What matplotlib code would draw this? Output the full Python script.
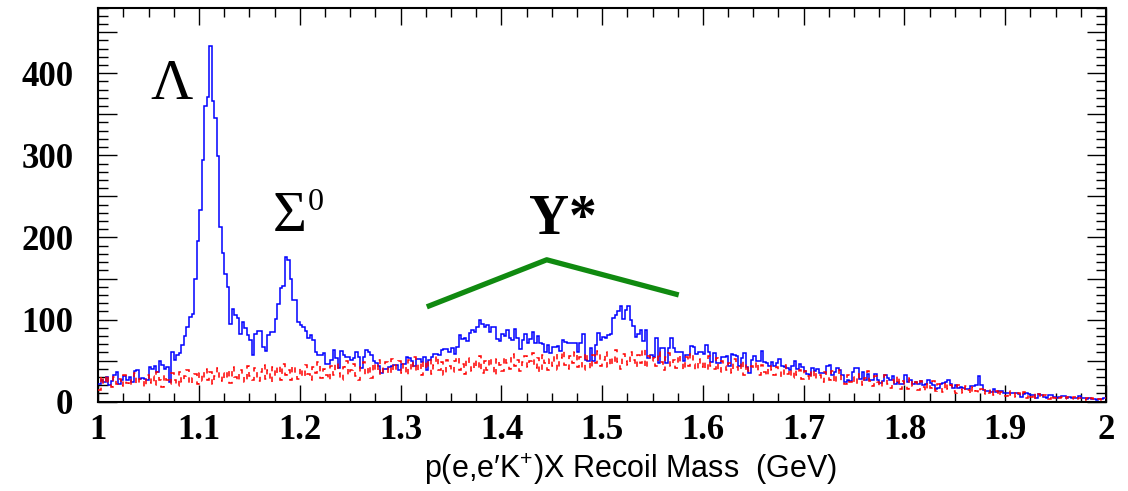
import numpy as np
import matplotlib
matplotlib.use("Agg")
import matplotlib.pyplot as plt
from matplotlib.ticker import MultipleLocator, FuncFormatter

# ---------------- data ----------------
x_min, x_max, n_bins = 1.0, 2.0, 400

signal_counts = [
    22, 27, 24, 30, 20, 25, 33, 36, 22, 27,
    31, 26, 30, 24, 37, 38, 28, 29, 28, 27,
    42, 40, 44, 36, 49, 45, 40, 42, 24, 60,
    51, 57, 59, 69, 80, 91, 103, 107, 150, 196,
    234, 294, 360, 371, 433, 366, 346, 299, 213, 181,
    155, 140, 95, 113, 105, 102, 83, 97, 90, 81,
    75, 57, 83, 86, 86, 66, 62, 81, 85, 85,
    101, 119, 138, 141, 176, 172, 150, 124, 124, 97,
    93, 91, 86, 78, 81, 75, 60, 57, 57, 59,
    46, 46, 51, 63, 53, 41, 62, 57, 55, 55,
    51, 53, 60, 54, 41, 54, 63, 60, 57, 50,
    47, 44, 35, 40, 40, 42, 43, 45, 45, 38,
    46, 46, 55, 53, 50, 43, 52, 52, 48, 54,
    39, 51, 55, 58, 58, 57, 63, 64, 64, 60,
    65, 58, 67, 81, 76, 78, 74, 84, 87, 85,
    91, 100, 95, 91, 93, 85, 91, 91, 76, 74,
    82, 80, 87, 77, 75, 89, 77, 64, 75, 82,
    72, 76, 85, 71, 80, 72, 70, 60, 69, 59,
    66, 66, 68, 62, 75, 73, 71, 71, 71, 72,
    60, 71, 83, 51, 50, 65, 50, 69, 84, 75,
    79, 78, 81, 82, 102, 106, 111, 116, 101, 112,
    117, 100, 92, 79, 83, 87, 74, 87, 53, 57,
    55, 77, 47, 65, 65, 47, 65, 78, 65, 61,
    61, 61, 50, 57, 57, 68, 67, 58, 61, 61,
    58, 69, 60, 48, 59, 47, 47, 55, 54, 56,
    43, 58, 57, 56, 43, 53, 59, 42, 35, 51,
    56, 49, 49, 62, 48, 47, 44, 48, 43, 47,
    52, 44, 42, 41, 39, 43, 49, 40, 46, 42,
    37, 34, 32, 41, 37, 40, 35, 35, 35, 44,
    45, 33, 36, 41, 39, 33, 24, 27, 25, 36,
    41, 41, 28, 36, 26, 34, 26, 26, 34, 27,
    23, 25, 32, 29, 26, 31, 22, 24, 21, 22,
    32, 24, 26, 22, 24, 22, 25, 20, 22, 26,
    23, 20, 15, 17, 22, 23, 24, 26, 22, 17,
    20, 17, 18, 17, 16, 15, 19, 19, 20, 31,
    20, 14, 13, 13, 12, 15, 12, 13, 13, 10,
    11, 11, 10, 10, 10, 9, 6, 9, 10, 9,
    8, 8, 4, 9, 8, 6, 5, 8, 8, 6,
    4, 6, 7, 7, 5, 6, 5, 5, 5, 7,
    4, 4, 3, 4, 3, 3, 2, 3, 3, 4,
]

background_counts = [
    14, 31, 21, 33, 24, 18, 30, 22, 28, 19,
    32, 23, 19, 29, 35, 21, 28, 25, 18, 33,
    23, 31, 20, 36, 27, 18, 32, 26, 22, 35,
    27, 19, 36, 24, 31, 38, 21, 29, 34, 22,
    35, 25, 40, 27, 36, 22, 31, 41, 25, 35,
    28, 38, 23, 42, 30, 25, 39, 33, 24, 43,
    31, 26, 41, 25, 36, 45, 28, 38, 24, 42,
    31, 43, 26, 46, 33, 39, 27, 44, 34, 28,
    41, 30, 45, 34, 26, 42, 35, 48, 29, 40,
    33, 26, 44, 32, 47, 35, 27, 42, 50, 32,
    38, 46, 31, 27, 42, 48, 33, 44, 29, 47,
    37, 51, 32, 44, 48, 34, 52, 37, 45, 49,
    35, 46, 32, 51, 39, 54, 36, 47, 33, 49,
    40, 52, 34, 45, 56, 38, 48, 33, 51, 43,
    36, 50, 55, 39, 46, 34, 53, 45, 37, 51,
    41, 56, 35, 49, 39, 53, 44, 33, 52, 45,
    37, 54, 47, 40, 58, 43, 51, 37, 48, 56,
    42, 50, 59, 41, 53, 36, 57, 47, 39, 52,
    44, 58, 38, 53, 62, 45, 40, 56, 47, 60,
    42, 54, 39, 59, 48, 40, 57, 47, 62, 43,
    51, 60, 42, 55, 46, 63, 48, 40, 58, 50,
    45, 61, 51, 42, 57, 47, 64, 41, 56, 49,
    53, 43, 61, 48, 39, 55, 59, 44, 51, 41,
    57, 47, 39, 54, 43, 59, 46, 38, 52, 42,
    50, 38, 56, 44, 40, 53, 36, 49, 43, 39,
    47, 35, 52, 42, 37, 50, 33, 46, 37, 43,
    40, 48, 33, 45, 36, 31, 44, 38, 32, 42,
    37, 30, 45, 34, 40, 29, 38, 33, 39, 28,
    37, 31, 27, 38, 28, 35, 32, 24, 36, 30,
    26, 37, 23, 33, 38, 25, 22, 32, 24, 30,
    21, 34, 28, 20, 29, 37, 25, 19, 31, 24,
    18, 28, 33, 22, 17, 27, 21, 31, 16, 25,
    20, 15, 29, 19, 24, 14, 25, 18, 13, 23,
    17, 25, 13, 21, 18, 12, 24, 15, 20, 13,
    11, 20, 15, 10, 19, 14, 9, 18, 13, 10,
    16, 9, 14, 11, 15, 8, 13, 7, 12, 9,
    7, 13, 8, 11, 6, 10, 7, 12, 5, 9,
    6, 10, 5, 9, 4, 8, 6, 3, 8, 5,
    7, 4, 6, 3, 6, 5, 3, 6, 2, 5,
    4, 2, 5, 2, 4, 3, 2, 3, 2, 4,
]

# Y* band marker (green polyline)
ystar_x = [1.326, 1.445, 1.576]
ystar_y = [115.5, 172.8, 130.0]

x_label = "p(e,e\u2032K$^{\\mathregular{+}}$)X Recoil Mass  (GeV)"

# ---------------- figure ----------------
W, H = 1128, 491
fig = plt.figure(figsize=(W / 100, H / 100), dpi=100)
ax_l, ax_r, ax_b, ax_t = 98.3, 1106, 401.7, 7.5
ax = fig.add_axes([ax_l / W, 1 - ax_b / H, (ax_r - ax_l) / W, (ax_b - ax_t) / H])

edges = np.linspace(x_min, x_max, n_bins + 1)
ax.stairs(signal_counts, edges, color="#0000ff", lw=1.1, baseline=None, zorder=3)
ax.stairs(background_counts, edges, color="#ff0000", lw=1.1,
          linestyle=(0, (3.5, 3.5)), baseline=None, zorder=4)

ax.plot(ystar_x, ystar_y, color="#108a10", lw=3.8, solid_capstyle="butt", zorder=5)

ax.set_xlim(x_min, x_max)
ax.set_ylim(0, 480)

ax.xaxis.set_major_locator(MultipleLocator(0.1))
ax.xaxis.set_minor_locator(MultipleLocator(0.025))
ax.yaxis.set_major_locator(MultipleLocator(50))
ax.yaxis.set_minor_locator(MultipleLocator(10))

ax.xaxis.set_major_formatter(FuncFormatter(lambda v, p: f"{v:.1f}".rstrip("0").rstrip(".") if abs(v - round(v)) > 1e-6 else f"{int(round(v))}"))
ax.yaxis.set_major_formatter(FuncFormatter(lambda v, p: f"{int(round(v))}" if int(round(v)) % 100 == 0 else ""))

ax.tick_params(axis="both", which="both", direction="in", top=True, right=True,
               color="black", width=1.0)
ax.tick_params(axis="x", which="major", length=12.5, pad=9)
ax.tick_params(axis="x", which="minor", length=6.5)
ax.tick_params(axis="y", which="major", length=13.5, pad=18)
ax.tick_params(axis="y", which="minor", length=7)

for lab in ax.get_xticklabels() + ax.get_yticklabels():
    lab.set_fontfamily("Liberation Serif")
    lab.set_fontweight("bold")
    lab.set_fontsize(25)

for sp in ax.spines.values():
    sp.set_linewidth(1.5)

fig.text(630 / W, 1 - 469 / H, x_label, ha="center", va="center",
         fontsize=22, family=["Liberation Sans", "DejaVu Sans"])

# peak annotations
serif = ["Liberation Serif", "DejaVu Serif"]
ax.text((172 - ax_l) / (ax_r - ax_l), 1 - (85 - ax_t) / (ax_b - ax_t), "\u039b",
        transform=ax.transAxes, ha="center", va="center", fontsize=42, family=serif)
ax.text((290 - ax_l) / (ax_r - ax_l), 1 - (217 - ax_t) / (ax_b - ax_t), "\u03a3",
        transform=ax.transAxes, ha="center", va="center", fontsize=42, family=serif)
ax.text((316 - ax_l) / (ax_r - ax_l), 1 - (203 - ax_t) / (ax_b - ax_t), "0",
        transform=ax.transAxes, ha="center", va="center", fontsize=23, family=serif)
ax.text((563 - ax_l) / (ax_r - ax_l), 1 - (220 - ax_t) / (ax_b - ax_t), "Y*",
        transform=ax.transAxes, ha="center", va="center", fontsize=40,
        family=serif, fontweight="bold")

fig.savefig("out.png", dpi=100)
